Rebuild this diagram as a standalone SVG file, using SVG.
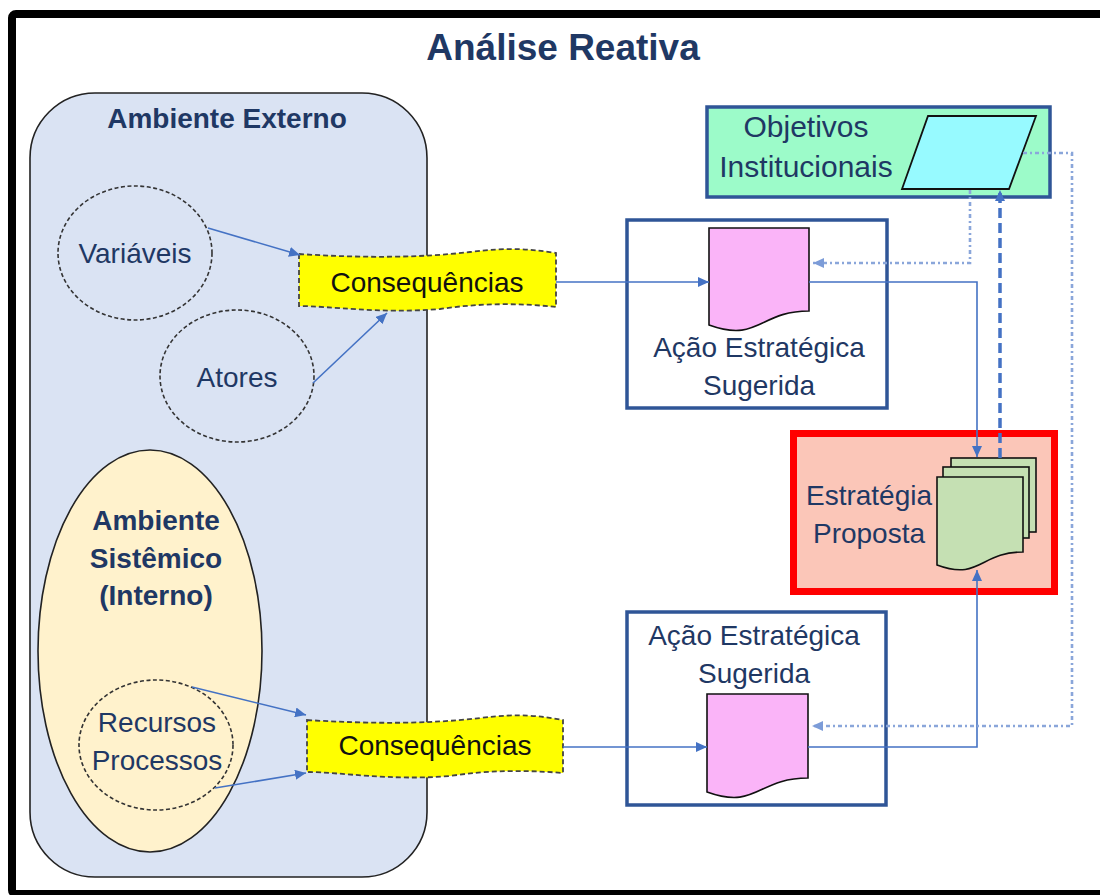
<svg xmlns="http://www.w3.org/2000/svg" width="1100" height="895" viewBox="0 0 1100 895">
<defs>
<style>
.lbl{font-family:"Liberation Sans",Arial,sans-serif;font-size:28px;fill:#1F3864;text-anchor:middle}
.bold{font-family:"Liberation Sans",Arial,sans-serif;font-weight:bold;font-size:28px;fill:#1F3864;text-anchor:middle}
.cons{font-family:"Liberation Sans",Arial,sans-serif;font-size:28px;fill:#111;text-anchor:middle}
.dashEll{fill:none;stroke:#333;stroke-width:1.6;stroke-dasharray:4 2.5}
.wave{fill:#FFFF00;stroke:#444;stroke-width:1.8;stroke-dasharray:5 3}
.box{fill:#fff;stroke:#2F5597;stroke-width:3.5}
.doc{fill:#FAB4F8;stroke:#111;stroke-width:1.6}
.gdoc{fill:#C5E0B3;stroke:#111;stroke-width:1.6}
.link{fill:none;stroke:#4472C4;stroke-width:1.6}
.dot{fill:none;stroke:#8AA6DA;stroke-width:2.6;stroke-dasharray:4 3 2 3}
.dash{fill:none;stroke:#4472C4;stroke-width:3.5;stroke-dasharray:10 5}
</style>
<marker id="arr" markerUnits="userSpaceOnUse" markerWidth="12" markerHeight="10" refX="11" refY="5" orient="auto">
<path d="M0,0 L11,5 L0,10 Z" fill="#4472C4"/>
</marker>
<marker id="arrL" markerUnits="userSpaceOnUse" markerWidth="12" markerHeight="10" refX="11" refY="5" orient="auto">
<path d="M0,0 L11,5 L0,10 Z" fill="#7C9CD8"/>
</marker>
</defs>
<rect x="0" y="0" width="1100" height="895" fill="#fff"/>
<rect id="frame" x="12" y="14" width="1100" height="880" rx="4" fill="none" stroke="#000" stroke-width="8"/>
<text id="title" x="563" y="60" font-family="'Liberation Sans',Arial,sans-serif" font-weight="bold" font-size="37" fill="#1F3864" text-anchor="middle">Análise Reativa</text>

<g id="ambiente-externo">
<rect x="30" y="93" width="397" height="784" rx="65" fill="#DAE3F3" stroke="#222" stroke-width="1.6"/>
<text class="bold" x="227" y="128">Ambiente Externo</text>
</g>
<g id="variaveis">
<ellipse class="dashEll" cx="135" cy="253" rx="77" ry="67"/>
<text class="lbl" x="135" y="263">Variáveis</text>
</g>
<g id="atores">
<ellipse class="dashEll" cx="237" cy="376" rx="77" ry="66"/>
<text class="lbl" x="237" y="387">Atores</text>
</g>
<g id="ambiente-sistemico">
<ellipse cx="150" cy="651" rx="112" ry="201" fill="#FFF2CC" stroke="#222" stroke-width="1.6"/>
<text class="bold" x="156" y="530">Ambiente</text>
<text class="bold" x="156" y="568">Sistêmico</text>
<text class="bold" x="156" y="605">(Interno)</text>
</g>
<g id="recursos-processos">
<ellipse class="dashEll" cx="156" cy="745" rx="77" ry="65"/>
<text class="lbl" x="157" y="732">Recursos</text>
<text class="lbl" x="157" y="770">Processos</text>
</g>
<g id="consequencias-1">
<path class="wave" d="M299,254 C360,258 420,258 470,252 C510,247 530,249 556,253 L556,307 C520,303 480,303 440,309 C380,314 330,306 299,306 Z"/>
<text class="cons" x="427" y="292">Consequências</text>
</g>
<g id="consequencias-2">
<path class="wave" d="M307,720 C370,724 430,724 480,718 C520,713 540,716 563,720 L563,773 C525,770 490,770 450,776 C390,781 340,772 307,772 Z"/>
<text class="cons" x="435" y="755">Consequências</text>
</g>

<g id="objetivos">
<rect x="707" y="107" width="343" height="90" fill="#9CFBC9" stroke="#2F5597" stroke-width="3.5"/>
<text class="lbl" x="806" y="137" font-size="30" style="font-size:30px">Objetivos</text>
<text class="lbl" x="806" y="177" style="font-size:30px">Institucionais</text>
<polygon points="928,116 1036,116 1009,189 902,189" fill="#97FAFF" stroke="#111" stroke-width="1.8"/>
</g>
<g id="acao-1">
<rect class="box" x="627" y="220" width="260" height="188"/>
<path class="doc" d="M709,228 H809 V311 C759,311 759,343 709,325 Z"/>
<text class="lbl" x="759" y="357">Ação Estratégica</text>
<text class="lbl" x="759" y="395">Sugerida</text>
</g>
<g id="estrategia">
<rect x="793.5" y="433.5" width="261" height="158" fill="#FBC6B8" stroke="#FF0000" stroke-width="7"/>
<text class="lbl" x="869" y="505">Estratégia</text>
<text class="lbl" x="869" y="543">Proposta</text>
<rect class="gdoc" x="951" y="458" width="85" height="74"/>
<rect class="gdoc" x="943" y="467" width="86" height="71"/>
<path class="gdoc" d="M937,477 H1023 V552 C980,552 980,581 937,565 Z"/>
</g>
<g id="acao-2">
<rect class="box" x="627" y="612" width="259" height="193"/>
<text class="lbl" x="754" y="645">Ação Estratégica</text>
<text class="lbl" x="754" y="683">Sugerida</text>
<path class="doc" d="M707,694 H808 V778 C757,778 757,810 707,792 Z"/>
</g>

<g id="connectors">
<line class="link" x1="208" y1="228" x2="300" y2="255" marker-end="url(#arr)"/>
<line class="link" x1="313" y1="383" x2="387" y2="313" marker-end="url(#arr)"/>
<line class="link" x1="192" y1="687" x2="306" y2="715" marker-end="url(#arr)"/>
<line class="link" x1="215" y1="788" x2="306" y2="773" marker-end="url(#arr)"/>
<line class="link" x1="556" y1="282" x2="709" y2="282" marker-end="url(#arr)"/>
<line class="link" x1="563" y1="747" x2="707" y2="747" marker-end="url(#arr)"/>
<polyline class="link" points="809,282 977,282 977,457" marker-end="url(#arr)"/>
<polyline class="link" points="808,747 977,747 977,570" marker-end="url(#arr)"/>
<polyline class="dot" points="970,190 970,263 813,263" marker-end="url(#arrL)"/>
<polyline class="dot" points="1023,153 1072,153 1072,726 812,726" marker-end="url(#arrL)"/>
<line class="dash" x1="1000" y1="458" x2="1000" y2="190" marker-end="url(#arr)"/>
</g>
</svg>
